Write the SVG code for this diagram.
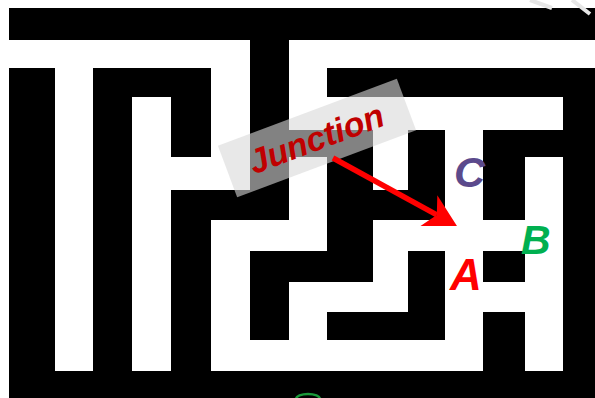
<svg xmlns="http://www.w3.org/2000/svg" width="595" height="398" viewBox="0 0 595 398">
<defs>
<style>
.wall{fill:#000}
.path{fill:#fff}
.lbl{font-family:"Liberation Sans",Arial,sans-serif;font-weight:bold;font-style:italic}
</style>
<marker id="head" markerUnits="userSpaceOnUse" viewBox="-10 -19 34 38" markerWidth="34" markerHeight="38" refX="0" refY="0" orient="auto">
<path d="M0,0 L-9,-17.5 L23,0 L-9,17.5 Z" fill="#ff0000"/>
</marker>
</defs>
<rect width="595" height="398" fill="#fff"/>
<g id="maze">
<rect class="wall" x="9" y="8" width="586" height="390"/>
<g class="path">
<rect x="55" y="40" width="38" height="331"/>
<rect x="132" y="97" width="39" height="274"/>
<rect x="211" y="40" width="39" height="150"/>
<rect x="211" y="220" width="39" height="151"/>
<rect x="289" y="40" width="38" height="90"/>
<rect x="289" y="157" width="38" height="94"/>
<rect x="289" y="282" width="38" height="89"/>
<rect x="373" y="97" width="35" height="93"/>
<rect x="373" y="220" width="35" height="92"/>
<rect x="445" y="97" width="38" height="274"/>
<rect x="525" y="157" width="38" height="214"/>
<rect x="9" y="40" width="241" height="28"/>
<rect x="289" y="40" width="306" height="28"/>
<rect x="289" y="97" width="274" height="33"/>
<rect x="132" y="157" width="118" height="33"/>
<rect x="211" y="220" width="116" height="31"/>
<rect x="373" y="220" width="190" height="31"/>
<rect x="289" y="282" width="119" height="30"/>
<rect x="445" y="282" width="118" height="30"/>
<rect x="211" y="340" width="272" height="31"/>
</g>
<path d="M296,399 A12,5 0 0 1 320,399" fill="none" stroke="#1a9a3a" stroke-width="2.5"/>
<path d="M530,0 L552,8 M572,0 L590,14" fill="none" stroke="#e6e6e6" stroke-width="4"/>
</g>
<g id="junction">
<rect x="-95.5" y="-27.5" width="191" height="55" fill="#d9d9d9" fill-opacity="0.6" transform="translate(317,138) rotate(-20.5)"/>
<text class="lbl" x="-1" y="12" font-size="34" fill="#c00000" text-anchor="middle" transform="translate(317,138) rotate(-20.5)">Junction</text>
</g>
<g id="connectors">
<line x1="333" y1="158" x2="436.8" y2="214.9" stroke="#ff0000" stroke-width="5.5" marker-end="url(#head)"/>
</g>
<g id="label-C">
<text class="lbl" x="454" y="187" font-size="43" fill="#5b4a8c">C</text>
</g>
<g id="label-B">
<text class="lbl" x="521" y="254" font-size="41" fill="#00b050">B</text>
</g>
<g id="label-A">
<text class="lbl" x="450" y="290" font-size="44" fill="#ff0000">A</text>
</g>
</svg>
